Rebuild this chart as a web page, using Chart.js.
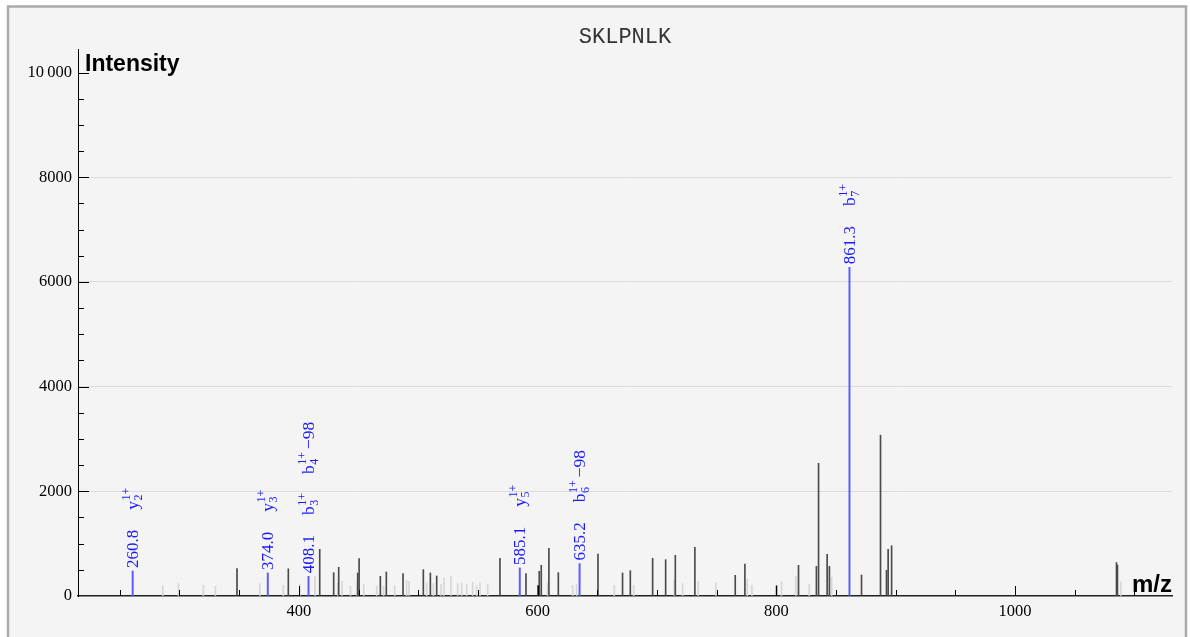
<!DOCTYPE html>
<html>
<head>
<meta charset="utf-8">
<title>SKLPNLK</title>
<script src="https://cdn.jsdelivr.net/npm/chart.js@4.4.1/dist/chart.umd.min.js"></script>
<style>
  html, body { margin: 0; padding: 0; background: #fff; overflow: hidden; }
  canvas { display: block; }
</style>
</head>
<body>
<canvas id="spectrum" width="1190" height="637"></canvas>
<script>
const peptide = 'SKLPNLK';
const mzRange = [215, 1131.5];
const intensityMax = 10450;

// tick positions (labelled ones are multiples of 200 / 2000)
const xTicks = [250, 300, 350, 400, 450, 500, 550, 600, 650, 700, 750, 800, 850, 900, 950, 1000, 1050, 1100];
const yTicks = [0, 500, 1000, 1500, 2000, 2500, 3000, 3500, 4000, 4500, 5000, 5500, 6000, 6500, 7000,
                7500, 8000, 8500, 9000, 9500, 10000];

// unmatched peaks (dark)
const darkMz  = [348.2, 391.2, 417.5, 429.2, 433.4, 449.3, 450.5, 468.3, 473.3, 487.3, 504.3, 510.2, 515.5,
                 568.5, 590.3, 600.3, 601.4, 603.1, 609.5, 617.4, 650.6, 671.2, 677.7, 696.4, 707.3, 715.4,
                 731.8, 765.6, 773.7, 800.2, 818.6, 833.6, 835.4, 842.6, 844.5, 871.4, 887.3, 892.3, 893.7,
                 896.6, 1085.0, 1085.8];
const darkInt = [522, 520, 892, 446, 548, 440, 713, 376, 459, 427, 503, 440, 382,
                 720, 427, 204, 471, 586, 911, 446, 803, 440, 484, 720, 694, 777,
                 930, 395, 611, 199, 586, 567, 2535, 794, 567, 400, 3073, 490, 893,
                 960, 638, 590];

// low-confidence peaks (light)
const lightMz  = [286.0, 299.1, 320.0, 330.1, 367.3, 387.0, 400.8, 413.6, 432.6, 436.2, 443.2, 448.9, 454.3,
                  465.2, 471.0, 480.3, 490.3, 492.3, 507.1, 512.7, 519.1, 521.6, 527.5, 533.1, 536.4, 540.6,
                  545.6, 549.0, 551.8, 558.2, 608.4, 629.4, 632.7, 664.3, 680.5, 714.5, 721.5, 734.6, 749.4,
                  775.7, 779.6, 804.4, 816.4, 827.6, 846.4, 1088.6];
const lightInt = [191, 236, 204, 185, 236, 204, 223, 376, 248, 280, 185, 250, 216,
                  191, 185, 191, 300, 280, 248, 236, 216, 344, 376, 236, 248, 216,
                  268, 200, 255, 223, 248, 204, 216, 204, 204, 300, 236, 280, 255,
                  318, 204, 268, 376, 223, 360, 268];

// matched fragment ions
const annMz  = [260.8, 374.0, 408.1, 585.1, 635.2, 861.3];
const annInt = [478, 440, 376, 536, 619, 6280];
// [ion, subscript, superscript, suffix]
const annIons = [
  [['y', '2', '1+', '']],
  [['y', '3', '1+', '']],
  [['b', '3', '1+', ''], ['b', '4', '1+', '\u221298']],
  [['y', '5', '1+', '']],
  [['b', '6', '1+', '\u221298']],
  [['b', '7', '1+', '']]
];

const serif = '"Liberation Serif", "Times New Roman", serif';
const sans = '"Liberation Sans", Arial, sans-serif';
const blue = '#1a1aff';

function toPoints(xs, ys) {
  return xs.map((x, i) => ({ x: x, y: ys[i] }));
}

function drawIon(ctx, ion, pos) {
  ctx.font = '17.5px ' + serif;
  ctx.fillText(ion[0], pos, 5.5);
  let end = pos + ctx.measureText(ion[0]).width + 0.5;
  ctx.font = '12px ' + serif;
  ctx.fillText(ion[2], end, -2.5);
  ctx.fillText(ion[1], end, 9.5);
  end += Math.max(ctx.measureText(ion[1]).width, ctx.measureText(ion[2]).width);
  if (ion[3]) {
    ctx.font = '17.5px ' + serif;
    end += 3;
    ctx.fillText(ion[3], end, 5.5);
    end += ctx.measureText(ion[3]).width;
  }
  return end;
}

const decor = {
  id: 'decor',
  beforeDraw(chart) {
    const ctx = chart.ctx;
    ctx.save();
    ctx.fillStyle = '#fff';
    ctx.fillRect(0, 0, chart.width, chart.height);
    ctx.fillStyle = '#f4f4f4';
    ctx.fillRect(8, 6.5, chart.width - 12, chart.height);
    ctx.strokeStyle = '#aaa';
    ctx.lineWidth = 2.5;
    ctx.strokeRect(8, 6.5, chart.width - 12, chart.height + 10);
    ctx.restore();
  },
  afterDraw(chart) {
    const ctx = chart.ctx;
    const xs = chart.scales.x, ys = chart.scales.y;
    const area = chart.chartArea;
    ctx.save();

    // inward tick marks
    ctx.strokeStyle = '#000';
    ctx.lineWidth = 1;
    ctx.beginPath();
    yTicks.forEach(v => {
      if (v === 0) return;
      const y = Math.round(ys.getPixelForValue(v)) + 0.5;
      const len = v % 2000 === 0 ? 11 : 6;
      ctx.moveTo(area.left, y);
      ctx.lineTo(area.left + len, y);
    });
    xTicks.forEach(v => {
      const x = Math.round(xs.getPixelForValue(v)) + 0.5;
      const len = v % 200 === 0 ? 10 : 6;
      ctx.moveTo(x, area.bottom);
      ctx.lineTo(x, area.bottom - len);
    });
    ctx.stroke();

    // title and axis names
    ctx.fillStyle = '#333';
    ctx.font = '22px "Liberation Mono", "Courier New", monospace';
    ctx.textAlign = 'center';
    ctx.textBaseline = 'alphabetic';
    ctx.fillText(peptide, (area.left + area.right) / 2, 43);
    ctx.fillStyle = '#000';
    ctx.font = 'bold 23px ' + sans;
    ctx.textAlign = 'left';
    ctx.fillText('Intensity', area.left + 7, 71);
    ctx.font = 'bold 24px ' + sans;
    ctx.textAlign = 'right';
    ctx.fillText('m/z', area.right, area.bottom - 4);

    // fragment annotations
    ctx.fillStyle = blue;
    ctx.textAlign = 'left';
    annMz.forEach((mz, i) => {
      const x = xs.getPixelForValue(mz);
      const top = ys.getPixelForValue(annInt[i]);
      ctx.save();
      ctx.translate(x, top - 3);
      ctx.rotate(-Math.PI / 2);
      ctx.font = '17px ' + serif;
      const label = mz.toFixed(1);
      ctx.fillText(label, 0, 5.5);
      let pos = ctx.measureText(label).width + 20;
      annIons[i].forEach(ion => {
        pos = drawIon(ctx, ion, pos) + 19;
      });
      ctx.restore();
    });
    ctx.restore();
  }
};

new Chart(document.getElementById('spectrum'), {
  type: 'bar',
  data: {
    datasets: [
      { data: toPoints(lightMz, lightInt), backgroundColor: '#d6d6d6', barThickness: 1, grouped: false, order: 3 },
      { data: toPoints(darkMz, darkInt), backgroundColor: '#4a4a4a', barThickness: 1, grouped: false, order: 2 },
      { data: toPoints(annMz, annInt), backgroundColor: '#5a5aff', barThickness: 1.3, grouped: false, order: 1 }
    ]
  },
  options: {
    responsive: false,
    animation: false,
    devicePixelRatio: 1,
    layout: { padding: { top: 49, right: 18, left: 0, bottom: 0 } },
    plugins: { legend: { display: false }, tooltip: { enabled: false } },
    scales: {
      x: {
        type: 'linear',
        offset: false,
        min: mzRange[0],
        max: mzRange[1],
        afterFit: s => { s.height = 41; },
        afterBuildTicks: s => { s.ticks = xTicks.map(v => ({ value: v })); },
        grid: { display: false, drawTicks: false, offset: false },
        border: { display: true, color: '#222', width: 1.5 },
        ticks: {
          autoSkip: false,
          maxRotation: 0,
          padding: 6,
          color: '#000',
          font: { family: serif, size: 16.5 },
          callback: v => (v % 200 === 0 ? String(v) : '')
        }
      },
      y: {
        min: 0,
        max: intensityMax,
        afterFit: s => { s.width = 78; },
        afterBuildTicks: s => { s.ticks = yTicks.map(v => ({ value: v })); },
        grid: {
          drawTicks: false,
          color: c => (c.tick && c.tick.value % 2000 === 0 && c.tick.value > 0 && c.tick.value < 10000) ? '#dcdcdc' : 'rgba(0,0,0,0)'
        },
        border: { display: true, color: '#000', width: 1 },
        ticks: {
          autoSkip: false,
          padding: 6,
          color: '#000',
          font: { family: serif, size: 16.5 },
          callback: v => {
            if (v % 2000 !== 0) return '';
            return v >= 10000 ? String(v).replace(/(\d+)(\d{3})$/, '$1\u2009$2') : String(v);
          }
        }
      }
    }
  },
  plugins: [decor]
});
</script>
</body>
</html>
